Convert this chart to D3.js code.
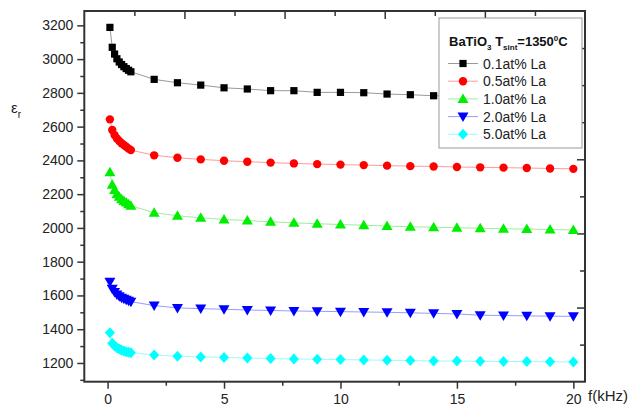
<!DOCTYPE html>
<html>
<head>
<meta charset="utf-8">
<script src="https://cdn.jsdelivr.net/npm/d3@7"></script>
<style>
  body { margin: 0; background: #fff; }
  svg { display: block; }
</style>
</head>
<body>
<svg id="chart" width="635" height="408"></svg>
<script>
// frequencies (kHz)
const freqs = [0.1, 0.2, 0.3, 0.4, 0.5, 0.6, 0.7, 0.8, 0.9, 1.0,
  2, 3, 4, 5, 6, 7, 8, 9, 10, 11, 12, 13, 14, 15, 16, 17, 18, 19, 20];

const la01 = [3188, 3070, 3030, 3002, 2983, 2968, 2955, 2944, 2934, 2925,
  2880, 2860, 2846, 2830, 2823, 2813, 2813, 2803, 2803, 2801, 2793, 2789, 2783, 2780, 2778, 2776, 2774, 2772, 2770];
const la05 = [2643, 2580, 2550, 2530, 2515, 2502, 2491, 2481, 2470, 2461,
  2430, 2416, 2406, 2398, 2392, 2387, 2382, 2378, 2375, 2372, 2369, 2366, 2364, 2361, 2359, 2357, 2355, 2352, 2350];
const la10 = [2330, 2255, 2225, 2200, 2185, 2170, 2160, 2150, 2140, 2132,
  2090, 2072, 2060, 2050, 2044, 2036, 2030, 2025, 2020, 2016, 2011, 2007, 2004, 2001, 1998, 1995, 1993, 1990, 1988];
const la20 = [1681, 1640, 1620, 1605, 1595, 1587, 1580, 1574, 1568, 1563,
  1540, 1526, 1522, 1518, 1514, 1511, 1508, 1506, 1504, 1502, 1500, 1497, 1494, 1490, 1483, 1481, 1479, 1477, 1476];
const la50 = [1379, 1317, 1300, 1290, 1282, 1276, 1271, 1267, 1264, 1261,
  1247, 1240, 1236, 1233, 1229, 1226, 1224, 1222, 1220, 1218, 1216, 1214, 1212, 1211, 1210, 1209, 1208, 1207, 1206];

const seriesNames = ["0.1at% La", "0.5at% La", "1.0at% La", "2.0at% La", "5.0at% La"];
const seriesValues = [la01, la05, la10, la20, la50];

const xTicks = [0, 5, 10, 15, 20];
const xMinor = [2.5, 7.5, 12.5, 17.5];
const yTicks = [1200, 1400, 1600, 1800, 2000, 2200, 2400, 2600, 2800, 3000, 3200];
const yMinor = [1100, 1300, 1500, 1700, 1900, 2100, 2300, 2500, 2700, 2900, 3100];

const markerColors = ["#000000", "#ff0000", "#00ee00", "#0000ff", "#00ffff"];
const lineColors = ["#9a9a9a", "#ff9a9a", "#9af09a", "#9a9aff", "#9afcfc"];
const symbols = ["square", "circle", "triangle", "triangleDown", "diamond"];

const plotL = 84.3, plotR = 585, plotT = 11, plotB = 381.7;
const font = "'Liberation Sans', Arial, sans-serif";
const axisColor = "#333";

const svg = d3.select("#chart").attr("font-family", font);

const x = d3.scaleLinear().domain([-1, 20.5]).range([plotL, plotR]);
const y = d3.scaleLinear().domain([1089, 3285]).range([plotB, plotT]);
// unlabelled mirror scales for the top / right frame
const xTop = d3.scaleLinear().domain([0, 10]).range([plotL, plotR]);
const yRight = d3.scaleLinear().domain([0, 10]).range([plotB, plotT]);

function styleAxis(g) {
  g.select(".domain").remove();
  g.selectAll("line").attr("stroke", axisColor).attr("stroke-width", 1.5);
  g.selectAll("text").attr("fill", "#222").attr("font-size", 14).attr("font-family", font);
}

// left axis
svg.append("g").attr("transform", `translate(${plotL},0)`)
  .call(d3.axisLeft(y).tickValues(yTicks).tickSize(7).tickPadding(4).tickFormat(d3.format("d")))
  .call(styleAxis);
svg.append("g").attr("transform", `translate(${plotL},0)`)
  .call(d3.axisLeft(y).tickValues(yMinor).tickSize(4).tickFormat(""))
  .call(styleAxis);

// bottom axis
svg.append("g").attr("transform", `translate(0,${plotB})`)
  .call(d3.axisBottom(x).tickValues(xTicks).tickSize(7).tickPadding(5))
  .call(styleAxis);
svg.append("g").attr("transform", `translate(0,${plotB})`)
  .call(d3.axisBottom(x).tickValues(xMinor).tickSize(4).tickFormat(""))
  .call(styleAxis);

// right / top inward ticks
svg.append("g").attr("transform", `translate(${plotR},0)`)
  .call(d3.axisLeft(yRight).tickValues(d3.range(1, 10)).tickSize(0).tickFormat(""))
  .call(g => {
    g.select(".domain").remove();
    g.selectAll(".tick line").attr("x2", d => d % 2 === 0 ? -8 : -5).attr("stroke", axisColor).attr("stroke-width", 1.5);
  });
svg.append("g").attr("transform", `translate(0,${plotT})`)
  .call(d3.axisTop(xTop).tickValues(d3.range(1, 10)).tickSize(0).tickFormat(""))
  .call(g => {
    g.select(".domain").remove();
    g.selectAll(".tick line").attr("y2", d => d % 2 === 0 ? 8 : 5).attr("stroke", axisColor).attr("stroke-width", 1.5);
  });

// frame
svg.append("rect")
  .attr("x", plotL).attr("y", plotT)
  .attr("width", plotR - plotL).attr("height", plotB - plotT)
  .attr("fill", "none").attr("stroke", axisColor).attr("stroke-width", 2);

// symbols
function symbolPath(kind) {
  switch (kind) {
    case "square": return d3.symbol(d3.symbolSquare, 52)();
    case "circle": return d3.symbol(d3.symbolCircle, 55)();
    case "triangle": return "M0,-5.5L5.5,4L-5.5,4Z";
    case "triangleDown": return "M0,5.5L5.5,-4L-5.5,-4Z";
    case "diamond": return "M0,-5.5L5,0L0,5.5L-5,0Z";
  }
}

const line = d3.line()
  .x(d => x(d[0]))
  .y(d => y(d[1]));

seriesValues.forEach((vals, i) => {
  const pts = freqs.map((f, j) => [f, vals[j]]);
  const g = svg.append("g");
  g.append("path")
    .datum(pts)
    .attr("d", line)
    .attr("fill", "none")
    .attr("stroke", lineColors[i])
    .attr("stroke-width", 1);
  g.selectAll("path.pt")
    .data(pts)
    .enter()
    .append("path")
    .attr("class", "pt")
    .attr("transform", d => `translate(${x(d[0])},${y(d[1])})`)
    .attr("d", symbolPath(symbols[i]))
    .attr("fill", markerColors[i]);
});

// legend
const lg = svg.append("g");
lg.append("rect")
  .attr("x", 439).attr("y", 18).attr("width", 143).attr("height", 130)
  .attr("fill", "#fff").attr("stroke", "#999").attr("stroke-width", 1);

const title = lg.append("text")
  .attr("x", 449).attr("y", 46)
  .attr("font-size", 13).attr("font-weight", "bold").attr("fill", "#111");
title.append("tspan").text("BaTiO");
title.append("tspan").attr("font-size", 8).attr("dy", 4).text("3");
title.append("tspan").attr("dy", -4).text(" T");
title.append("tspan").attr("font-size", 8).attr("dy", 4).text("sint");
title.append("tspan").attr("dy", -4).text("=1350");
title.append("tspan").attr("font-size", 8).attr("dy", -5).text("0");
title.append("tspan").attr("dy", 5).text("C");

seriesNames.forEach((name, i) => {
  const cy = 63.5 + i * 17.7;
  lg.append("line")
    .attr("x1", 448).attr("x2", 478).attr("y1", cy).attr("y2", cy)
    .attr("stroke", lineColors[i]).attr("stroke-width", 1);
  lg.append("path")
    .attr("transform", `translate(463,${cy})`)
    .attr("d", symbolPath(symbols[i]))
    .attr("fill", markerColors[i]);
  lg.append("text")
    .attr("x", 483).attr("y", cy + 5)
    .attr("font-size", 14).attr("fill", "#222")
    .text(name);
});

// axis titles
const yl = svg.append("text").attr("x", 11).attr("y", 113).attr("font-size", 15).attr("fill", "#222");
yl.append("tspan").text("ε");
yl.append("tspan").attr("font-size", 10).attr("dy", 5).text("r");

svg.append("text")
  .attr("x", 588).attr("y", 401)
  .attr("font-size", 15).attr("fill", "#222")
  .text("f(kHz)");
</script>
</body>
</html>
